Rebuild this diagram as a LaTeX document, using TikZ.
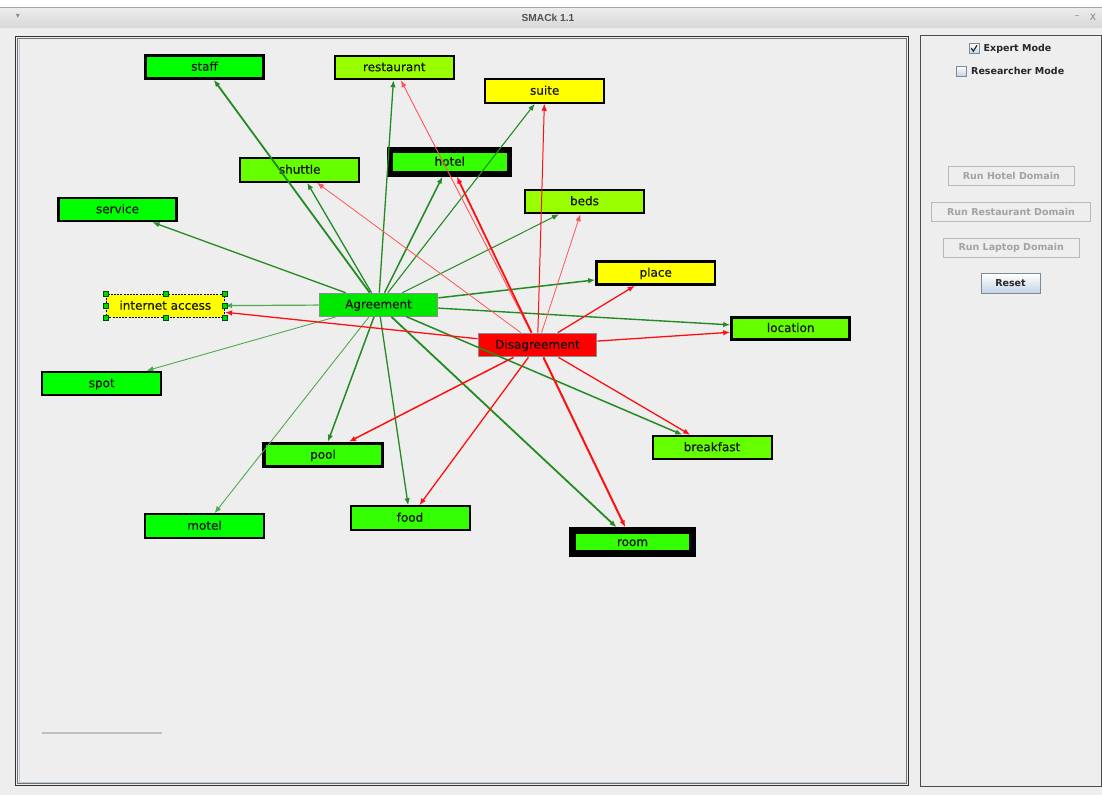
\documentclass[tikz,border=0pt]{standalone}
\usepackage{fontspec}
\setmainfont{DejaVu Sans}
\newfontfamily\titlefont{Liberation Sans}
\newfontfamily\vfont[FakeBold=0.6]{DejaVu Sans}
\usetikzlibrary{arrows.meta}
\definecolor{winbg}{HTML}{EEEEEE}
\definecolor{c00}{HTML}{00FF00}
\definecolor{c33}{HTML}{33FF00}
\definecolor{c66}{HTML}{66FF00}
\definecolor{c99}{HTML}{99FF00}
\definecolor{cFF}{HTML}{FFFF00}
\definecolor{agree}{HTML}{00E800}
\definecolor{disag}{HTML}{FF0000}
\definecolor{gedgec}{HTML}{228B22}
\definecolor{gedgel}{HTML}{4FA94F}
\definecolor{redgec}{HTML}{FF1010}
\definecolor{redgel}{HTML}{FF5555}
\definecolor{btnborder}{HTML}{B8B8B8}
\definecolor{btntext}{HTML}{A2A2A2}
\definecolor{okborder}{HTML}{7A8A99}
\definecolor{okshade}{HTML}{C3D3E3}
\definecolor{etchblue}{HTML}{B9C7D6}
\tikzset{
  vbox/.style={draw=black, inner sep=0pt, text=black!92,
    font=\vfont\fontsize{12}{14}\selectfont, text height=9.4pt, text depth=2pt},
  vx/.style n args={2}{line width=#1pt, fill=#2,
    minimum width={121pt-#1pt}, minimum height={25.5pt-#1pt}},
  ge/.style={draw=gedgec, line width=#1pt, -{Latex[length=7pt,width=5.5pt]}},
  gl/.style={draw=gedgel, line width=#1pt, -{Latex[length=7pt,width=5.5pt]}},
  re/.style={draw=redgec, line width=#1pt, -{Latex[length=7pt,width=5.5pt]}},
  rl/.style={draw=redgel, line width=#1pt, -{Latex[length=7pt,width=5.5pt]}},
  handle/.style={draw=black!70!green, fill=green!85!black, line width=0.5pt,
    minimum size=5pt, inner sep=0pt},
  pfont/.style={font=\bfseries\fontsize{9.5}{11}\selectfont},
  offbtn/.style={pfont, draw=btnborder, fill=winbg, text=btntext,
    minimum height=19pt, inner sep=0pt, line width=1pt},
  chkbox/.style={draw=okborder, top color=white, bottom color=okshade,
    minimum size=10pt, inner sep=0pt, line width=0.8pt}
}
\begin{document}
\begin{tikzpicture}[x=1pt,y=-1pt]
\useasboundingbox (0,0) rectangle (1102,795);
% window background
\fill[winbg] (0,0) rectangle (1102,795);
\fill[white] (0,0) rectangle (1102,6.5);
\shade[top color=black!7, bottom color=black!15] (0,7) rectangle (1102,27);
\draw[black!35] (0,7) -- (1102,7);
\node[font=\titlefont\bfseries\fontsize{10.2}{11}\selectfont, text=black!68] (title) at (548,17.5) {SMACk 1.1};
\node[font=\fontsize{8}{9}\selectfont, text=black!45] (menu) at (18,16.5) {▾};
\node[font=\fontsize{9}{10}\selectfont, text=black!50] (minb) at (1077,17.5) {–};
\node[font=\fontsize{9}{10}\selectfont, text=black!50] (closeb) at (1093,17.5) {X};
% canvas panel
\draw[black!80, line width=1pt] (15.5,36) rectangle (908.5,785.5);
\draw[black!55, line width=0.7pt] (17.6,38.1) rectangle (906.4,783.6);
\draw[etchblue, line width=1pt] (19.5,40) -- (19.5,782.5) -- (904.5,782.5);
\draw[black!25, line width=1.1pt] (42,733) -- (162,733);
% side panel
\draw[black!70, line width=1pt] (920.5,35.5) rectangle (1101.5,786.5);
\node[chkbox] (cbx1) at (974,48.5) {};
\draw[black!85, line width=1.2pt, line cap=round] (971.3,48.3) -- (973.3,51.2) -- (976.8,45.6);
\node[pfont, text=black!85] (expert) at (1017.5,48.5) {Expert Mode};
\node[chkbox] (cbx2) at (961,71) {};
\node[pfont, text=black!85] (research) at (1017.7,70.8) {Researcher Mode};
\node[offbtn, minimum width=126pt] (bhotel) at (1011.3,176.2) {Run Hotel Domain};
\node[offbtn, minimum width=159pt] (brest) at (1011,211.8) {Run Restaurant Domain};
\node[offbtn, minimum width=136pt] (blap) at (1011.2,247.8) {Run Laptop Domain};
\node[pfont, draw=okborder, top color=white, bottom color=okshade, text=black!85,
  minimum width=59pt, minimum height=19.5pt, inner sep=0pt, line width=1pt] (reset) at (1010.5,283.5) {Reset};
% vertices
\node[vbox, vx={3.2}{c00}] (staff) at (204.5,67) {staff};
\node[vbox, vx={2}{c99}] (restaurant) at (394.3,67.5) {restaurant};
\node[vbox, vx={2}{cFF}] (suite) at (544.7,91) {suite};
\node[vbox, vx={2}{c66}] (shuttle) at (299.7,170) {shuttle};
\node[vbox, vx={5.5}{c33}, minimum width=119.5pt, minimum height=23.8pt] (hotel) at (449.8,162) {hotel};
\node[vbox, vx={2.7}{c00}] (service) at (117.5,209.5) {service};
\node[vbox, vx={2}{c99}] (beds) at (584.5,201.5) {beds};
\node[vbox, vx={2.3}{cFF}] (place) at (655.7,273) {place};
\node[vbox, vx={1.2}{cFF}, dash pattern=on 2pt off 1.2pt, minimum width=118.3pt, minimum height=22.8pt] (internet) at (165.3,306) {internet access};
\node[vbox, vx={1}{agree}, draw=black!45, minimum width=118.7pt, minimum height=23pt] (agreement) at (378.5,304.7) {Agreement};
\node[vbox, vx={3}{c66}] (location) at (790.7,328.3) {location};
\node[vbox, vx={1}{disag}, draw=black!45, minimum width=118.7pt, minimum height=23.7pt] (disagreement) at (537.5,345) {Disagreement};
\node[vbox, vx={2}{c00}] (spot) at (101.7,383.5) {spot};
\node[vbox, vx={2}{c66}] (breakfast) at (712,447.5) {breakfast};
\node[vbox, vx={3.5}{c33}, minimum width=118.5pt, minimum height=23.1pt] (pool) at (323,455) {pool};
\node[vbox, vx={2}{c00}] (motel) at (204.5,526) {motel};
\node[vbox, vx={2}{c33}] (food) at (410,518) {food};
\node[vbox, vx={7}{c33}, minimum width=120pt, minimum height=23pt] (room) at (632.5,542.3) {room};
% Agreement edges
\draw[ge=1.8] (agreement) -- (staff);
\draw[ge=1.3] (agreement) -- (restaurant);
\draw[ge=1.1] (agreement) -- (suite);
\draw[ge=1.3] (agreement) -- (shuttle);
\draw[ge=1.5] (agreement) -- (hotel);
\draw[ge=1.3] (agreement) -- (service);
\draw[ge=1.0] (agreement) -- (beds);
\draw[ge=1.5] (agreement) -- (place);
\draw[gl=1.2] (agreement) -- (internet);
\draw[ge=1.4] (agreement) -- (location);
\draw[gl=0.9] (agreement) -- (spot);
\draw[ge=1.5] (agreement) -- (pool);
\draw[gl=0.9] (agreement) -- (motel);
\draw[ge=1.3] (agreement) -- (food);
\draw[ge=1.5] (agreement) -- (breakfast);
\draw[ge=1.8] (agreement) -- (room);
% Disagreement edges
\draw[rl=0.9] (disagreement) -- (restaurant);
\draw[re=1.0] (disagreement) -- (suite);
\draw[rl=0.8] (disagreement) -- (shuttle);
\draw[re=1.8] (disagreement) -- (hotel);
\draw[rl=0.8] (disagreement) -- (beds);
\draw[re=1.3] (disagreement) -- (place);
\draw[re=1.3] (disagreement) -- (internet);
\draw[re=1.3] (disagreement) -- (location);
\draw[re=1.3] (disagreement) -- (breakfast);
\draw[re=2.0] (disagreement) -- (room);
\draw[re=1.3] (disagreement) -- (food);
\draw[re=1.5] (disagreement) -- (pool);
% selection handles
\foreach \a in {north west,north,north east,west,east,south west,south,south east}
  \node[handle] at (internet.\a) {};
\end{tikzpicture}
\end{document}
